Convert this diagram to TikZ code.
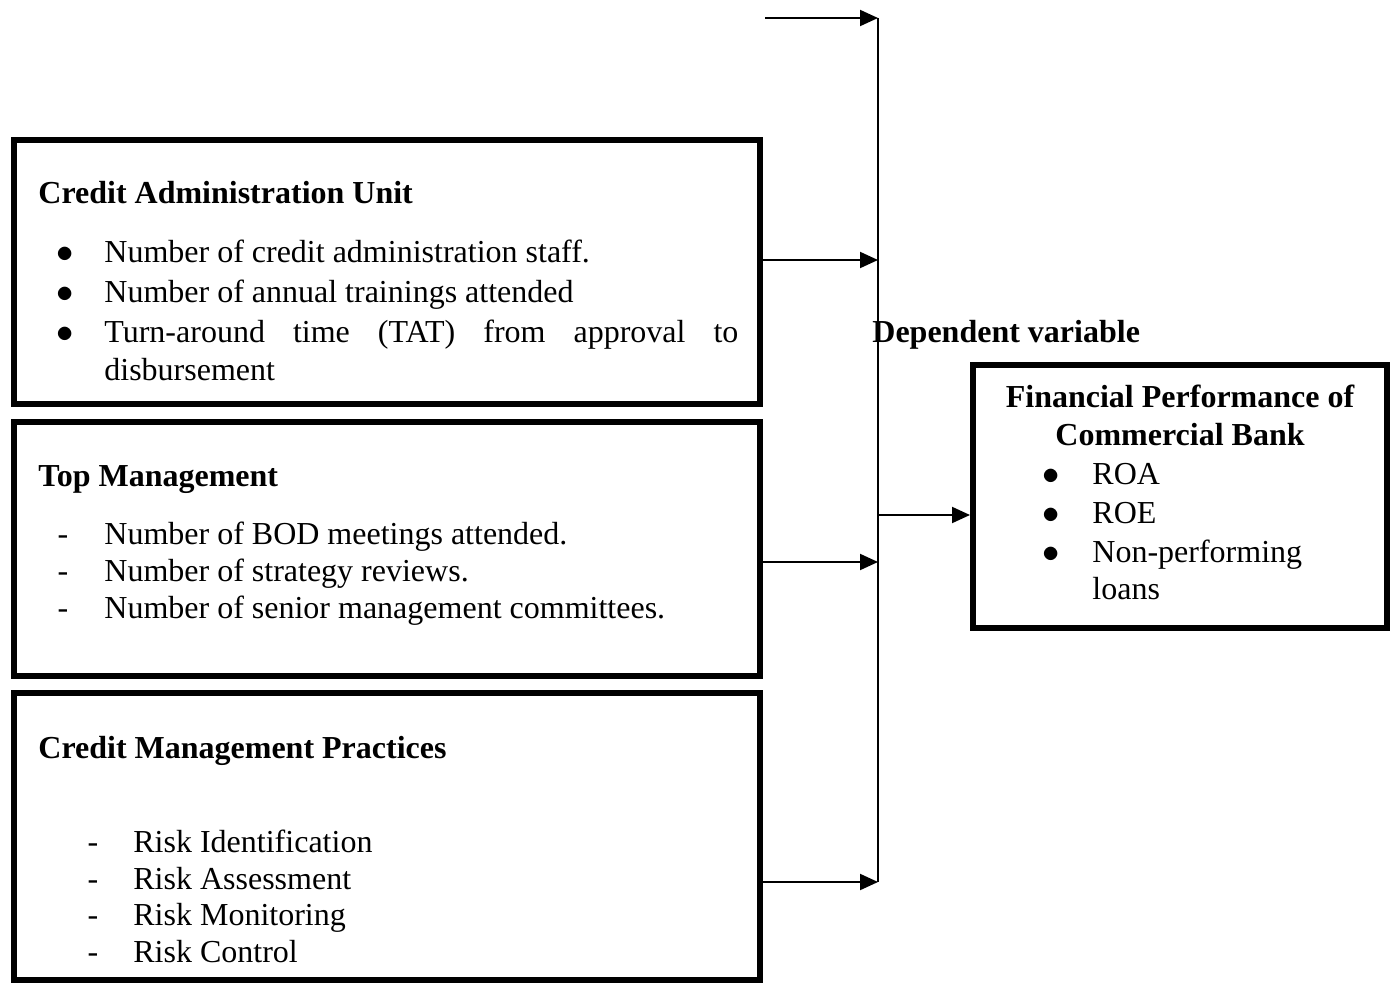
\documentclass[tikz,border=0pt]{standalone}
\usepackage{fontspec}
\setmainfont{Liberation Serif}
\usetikzlibrary{arrows.meta,positioning}
\tikzstyle{box}=[draw,line width=3pt,inner sep=0pt,minimum width=373pt]
\tikzstyle{txt}=[anchor=base west,inner sep=0pt,font=\fontsize{16}{20}\selectfont]
\tikzstyle{head}=[anchor=base west,inner sep=0pt,font=\fontsize{16}{20}\selectfont\bfseries]
\tikzstyle{bul}=[anchor=base,inner sep=0pt,font=\fontsize{16}{20}\selectfont]
\tikzstyle{arr}=[line width=1pt,-{Triangle[length=9pt,width=8pt]}]

\begin{document}
\begin{tikzpicture}[x=0.5pt,y=-0.5pt]
\useasboundingbox (0,0) rectangle (1395,983);
\draw (387,272) node [box,minimum height=132pt] (cau) {};
\draw (387,549) node [box,minimum height=127pt] (topm) {};
\draw (387,836.5) node [box,minimum height=143.5pt] (cmp) {};
\draw (1180,496.5) node [box,minimum width=207pt,minimum height=131.5pt] (fin) {};

\draw (38,204) node [head] (caut) {Credit Administration Unit};
\draw (65,263) node [bul] (cb1) {$\bullet$};
\draw (65,303) node [bul] (cb2) {$\bullet$};
\draw (65,343) node [bul] (cb3) {$\bullet$};
\draw (104,263) node [txt] (ci1) {Number of credit administration staff.};
\draw (104,303) node [txt] (ci2) {Number of annual trainings attended};
\draw (104,343) node [txt] (ci3) {\makebox[317pt][s]{Turn-around time (TAT) from approval to}};
\draw (104,381) node [txt] (ci4) {disbursement};

\draw (38,486) node [head] (topt) {Top Management};
\draw (63,544) node [bul] (tb1) {-};
\draw (63,581) node [bul] (tb2) {-};
\draw (63,618) node [bul] (tb3) {-};
\draw (104,544) node [txt] (ti1) {Number of BOD meetings attended.};
\draw (104,581) node [txt] (ti2) {Number of strategy reviews.};
\draw (104,618) node [txt] (ti3) {Number of senior management committees.};

\draw (38,758) node [head] (cmpt) {Credit Management Practices};
\draw (93,852) node [bul] (pb1) {-};
\draw (93,889) node [bul] (pb2) {-};
\draw (93,925) node [bul] (pb3) {-};
\draw (93,962) node [bul] (pb4) {-};
\draw (133,852) node [txt] (pi1) {Risk Identification};
\draw (133,889) node [txt] (pi2) {Risk Assessment};
\draw (133,925) node [txt] (pi3) {Risk Monitoring};
\draw (133,962) node [txt] (pi4) {Risk Control};

\draw (872,343) node [head] (dep) {Dependent variable};
\draw (1180,408) node [bul,font=\fontsize{16}{20}\selectfont\bfseries] (fint1) {Financial Performance of};
\draw (1180,445) node [bul,font=\fontsize{16}{20}\selectfont\bfseries] (fint2) {Commercial Bank};
\draw (1051,484) node [bul] (fb1) {$\bullet$};
\draw (1051,523) node [bul] (fb2) {$\bullet$};
\draw (1051,562) node [bul] (fb3) {$\bullet$};
\draw (1092,484) node [txt] (fi1) {ROA};
\draw (1092,523) node [txt] (fi2) {ROE};
\draw (1092,562) node [txt] (fi3) {Non-performing};
\draw (1092,599) node [txt] (fi4) {loans};

\coordinate (bustop) at (878,18);
\coordinate (busbot) at (878,882);
\coordinate (start) at (765,18);
\coordinate (j1) at (878,260);
\coordinate (j2) at (878,562);
\coordinate (j0) at (878,515);
\draw[line width=1pt] (bustop) -- (busbot);
\draw[arr] (start) -- (bustop);
\draw[arr] (j1 -| cau.east) -- (j1);
\draw[arr] (j2 -| topm.east) -- (j2);
\draw[arr] (busbot -| cmp.east) -- (busbot);
\draw[arr] (j0) -- (j0 -| fin.west);
\end{tikzpicture}
\end{document}
